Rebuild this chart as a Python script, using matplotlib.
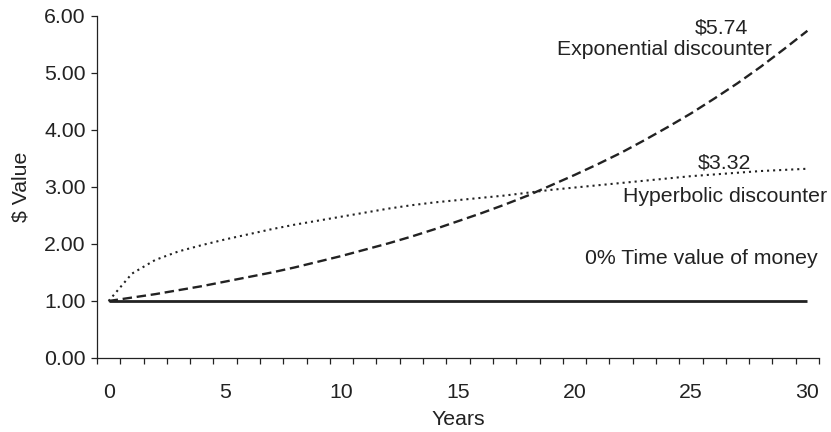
import numpy as np
import matplotlib.pyplot as plt
from matplotlib.ticker import MultipleLocator, FixedLocator

plt.rcParams['font.family'] = ['Liberation Sans', 'DejaVu Sans']

# values, one per year
years = list(range(0, 31))
exponential = [1.00, 1.06, 1.12, 1.19, 1.26, 1.34, 1.42, 1.50, 1.59, 1.69,
               1.79, 1.90, 2.01, 2.13, 2.26, 2.40, 2.54, 2.69, 2.85, 3.03,
               3.21, 3.40, 3.60, 3.82, 4.05, 4.29, 4.55, 4.82, 5.11, 5.42,
               5.74]
hyperbolic = [1.00, 1.48, 1.72, 1.87, 1.98, 2.08, 2.17, 2.26, 2.34, 2.41,
              2.48, 2.55, 2.62, 2.68, 2.73, 2.77, 2.81, 2.85, 2.90, 2.95,
              2.99, 3.03, 3.07, 3.11, 3.15, 3.19, 3.22, 3.25, 3.28, 3.30,
              3.32]
no_time_value = [1.00] * 31

ink = '#222222'
fs = 15.3

fig, ax = plt.subplots(figsize=(8.31, 4.32), dpi=100)
fig.subplots_adjust(left=0.1167, right=0.9856, bottom=0.1713, top=0.963)

ax.plot(years, no_time_value, color=ink, lw=2.0, solid_capstyle='butt')
ax.plot(years, exponential, color=ink, lw=1.7, linestyle=(0, (4.0, 2.0)))
ax.plot(years, hyperbolic, color=ink, lw=1.5, linestyle=(0, (1, 1.9)))

ax.set_xlim(-0.5, 30.5)
ax.set_ylim(0, 6)

# category style axis: small ticks between years, labels every 5
ax.xaxis.set_major_locator(FixedLocator([0, 5, 10, 15, 20, 25, 30]))
ax.xaxis.set_minor_locator(FixedLocator(np.arange(-0.5, 30.6, 1.0)))
ax.tick_params(axis='x', which='major', length=0, pad=18, labelsize=fs, labelcolor=ink)
ax.tick_params(axis='x', which='minor', length=4.5, width=0.9, direction='out', color=ink)
ax.yaxis.set_major_locator(MultipleLocator(1))
ax.yaxis.set_major_formatter(lambda v, p: f'{v:.2f}')
ax.tick_params(axis='y', length=4, width=0.9, direction='out', pad=4,
               labelsize=fs, labelcolor=ink, color=ink)

for side in ['top', 'right']:
    ax.spines[side].set_visible(False)
for side in ['left', 'bottom']:
    ax.spines[side].set_color(ink)
    ax.spines[side].set_linewidth(0.9)

ax.set_xlabel('Years', fontsize=fs, color=ink, va='top')
ax.xaxis.set_label_coords(0.5, -0.152)
ax.set_ylabel('$ Value', fontsize=fs, color=ink, va='center')
ax.yaxis.set_label_coords(-0.105, 0.5)

ax.text(26.3, 5.70, '$5.74', ha='center', va='baseline', fontsize=fs, color=ink)
ax.text(28.48, 5.32, 'Exponential discounter', ha='right', va='baseline', fontsize=fs, color=ink)
ax.text(26.46, 3.33, '$3.32', ha='center', va='baseline', fontsize=fs, color=ink)
ax.text(30.84, 2.74, 'Hyperbolic discounter', ha='right', va='baseline', fontsize=fs,
        color=ink, clip_on=False)
ax.text(30.46, 1.65, '0% Time value of money', ha='right', va='baseline', fontsize=fs, color=ink)

fig.savefig('out.png', dpi=100)
